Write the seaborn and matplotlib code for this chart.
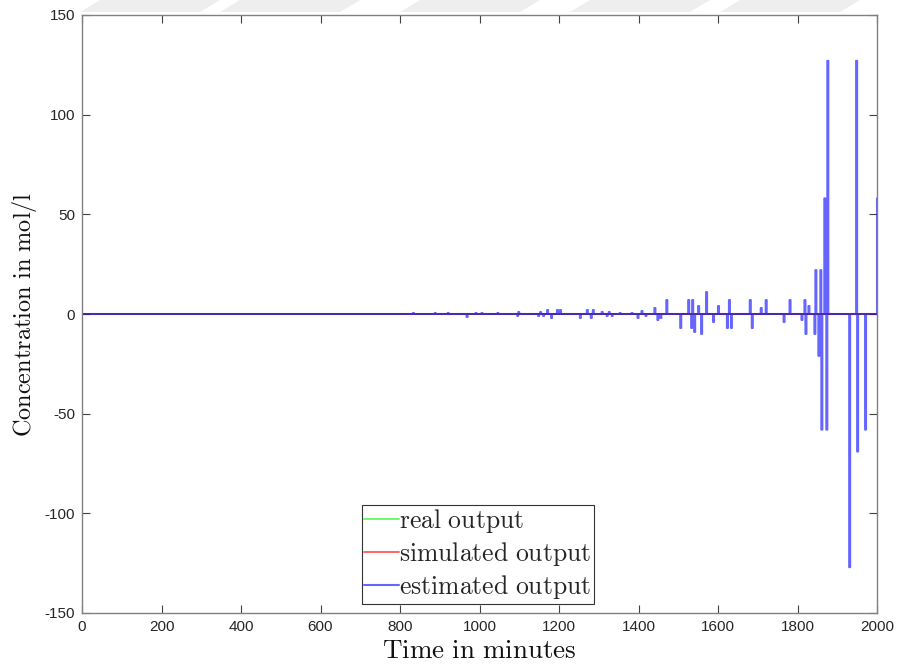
import numpy as np
import pandas as pd
import matplotlib
matplotlib.use("Agg")
import matplotlib.pyplot as plt
import seaborn as sns
from matplotlib.patches import Polygon

# ---------------- data ----------------
sample_step = 2.5  # minutes
spike_times = [833, 888, 921, 968, 989, 1005, 1046, 1094, 1098, 1148, 1152, 1160, 1169, 1180,
               1194, 1203, 1253, 1270, 1281, 1285, 1307, 1320, 1324, 1333, 1353, 1383, 1398,
               1408, 1418, 1440, 1447, 1454, 1469, 1504, 1525, 1532, 1536, 1540, 1550, 1557,
               1569, 1588, 1599, 1623, 1627, 1632, 1679, 1685, 1708, 1720, 1766, 1780, 1809,
               1817, 1820, 1827, 1842, 1846, 1852, 1857, 1861, 1868, 1872, 1876, 1929, 1948,
               1950, 1971, 2000]
spike_values = [0.5, 0.5, 0.5, -1.5, 0.5, 0.5, 0.5, -1, 1, -1, 1, -1, 2, -2,
                2, 2, -2, 2, -2, 2, 1, -1, 1, -1, 0.5, 0.5, -2,
                1.5, -1, 3, -3, -2, 7, -7, 7, -7, 7, -9, 4, -10,
                11, -4, 4, -7, 7, -7, 7, -7, 3, 7, -4, 7, -3,
                7, -10, 4, -10, 22, -21, 22, -58, 58, -58, 127, -127, 127,
                -69, -58, 58]

time = np.arange(0, 2000 + sample_step / 2, sample_step)
estimated = np.zeros_like(time)
for t, v in zip(spike_times, spike_values):
    idx = int(round(t / sample_step))
    estimated[min(idx, len(time) - 1)] = v
real = np.zeros_like(time)
simulated = np.zeros_like(time)

x_ticks = list(range(0, 2001, 200))
y_ticks = list(range(-150, 151, 50))

# ---------------- style ----------------
sns.set_theme(style="white")
plt.rcParams["font.family"] = ["Liberation Sans", "DejaVu Sans"]
plt.rcParams["mathtext.fontset"] = "cm"
plt.rcParams["axes.unicode_minus"] = False

fig = plt.figure(figsize=(8.99, 6.70), dpi=100)
ax = fig.add_axes([82 / 899, 1 - 613 / 670, 795 / 899, 598 / 670])

# faint watermark shapes at top of the page
for x0 in [100, 240, 420, 590, 740]:
    poly = Polygon([[x0 / 899, 1.0], [(x0 + 120) / 899, 1.0], [(x0 + 100) / 899, 1 - 12 / 670],
                    [(x0 - 20) / 899, 1 - 12 / 670]], closed=True, transform=fig.transFigure,
                   facecolor="#eeeeee", edgecolor="none", zorder=0)
    fig.patches.append(poly)

df = pd.DataFrame({"time": time, "real": real, "sim": simulated, "est": estimated})
sns.lineplot(data=df, x="time", y="real", ax=ax, color="#00ff00", alpha=0.6, lw=1.4,
             drawstyle="steps-post", estimator=None, label=r"$\mathrm{real\ output}$")
sns.lineplot(data=df, x="time", y="sim", ax=ax, color="#ff0000", alpha=0.6, lw=1.4,
             drawstyle="steps-post", estimator=None, label=r"$\mathrm{simulated\ output}$")
sns.lineplot(data=df, x="time", y="est", ax=ax, color="#0000ff", alpha=0.6, lw=1.5,
             drawstyle="steps-post", estimator=None, label=r"$\mathrm{estimated\ output}$")

ax.set_xlim(0, 2000)
ax.set_ylim(-150, 150)
ax.set_xticks(x_ticks)
ax.set_yticks(y_ticks)
ax.set_xticklabels([str(v) for v in x_ticks])
ax.set_yticklabels([str(v) for v in y_ticks])
ax.tick_params(direction="in", length=6, width=0.8, color="#404040", labelsize=11,
               labelcolor="#262626", top=True, right=True, bottom=True, left=True, pad=5)
for s in ax.spines.values():
    s.set_color("#808080")
    s.set_linewidth(1.0)

ax.set_xlabel(r"$\mathrm{Time\ in\ minutes}$", fontsize=19.5, labelpad=3, color="#111111")
ax.set_ylabel(r"$\mathrm{Concentration\ in\ mol/l}$", fontsize=17.5, labelpad=4, color="#111111")

leg = ax.legend(loc="lower left", bbox_to_anchor=(0.352, 0.015), fontsize=18.5, frameon=True,
                fancybox=False, edgecolor="#333333", framealpha=1, borderpad=0.1,
                handlelength=1.35, handletextpad=0.0, labelspacing=0.2, borderaxespad=0)
leg.get_frame().set_linewidth(0.8)

fig.savefig("out.png", dpi=100)
